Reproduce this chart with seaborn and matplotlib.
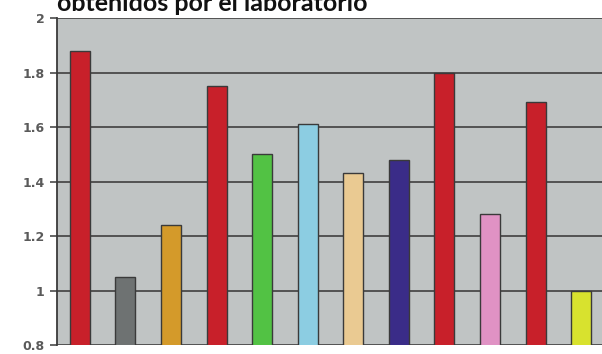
import matplotlib
matplotlib.use("Agg")
import matplotlib.pyplot as plt
import seaborn as sns
import pandas as pd

categories = ["M1", "M2", "M3", "M4", "M5", "M6", "M7", "M8", "M9", "M10", "M11", "M12"]
values = [1.88, 1.05, 1.24, 1.75, 1.50, 1.61, 1.43, 1.48, 1.80, 1.28, 1.69, 1.00]
colors = ["#c8202a", "#6e7272", "#d49a2a", "#c8202a", "#52c244", "#8ccde2",
          "#eaca92", "#3a2c88", "#c8202a", "#e092c4", "#c8202a", "#d8e22e"]
yticks = [0.8, 1, 1.2, 1.4, 1.6, 1.8, 2]
yticklabels = ["0.8", "1", "1.2", "1.4", "1.6", "1.8", "2"]
title = "obtenidos por el laboratorio"

df = pd.DataFrame({"cat": categories, "val": values})

sns.set_theme(style="white")
fig = plt.figure(figsize=(6.02, 3.54), dpi=100)
W, H = 602, 354
ax = fig.add_axes([57 / W, 9 / H, (604 - 57) / W, (345 - 18) / H])
ax.set_facecolor("#c0c4c4")

sns.barplot(data=df, x="cat", y="val", hue="cat", order=categories,
            palette=dict(zip(categories, colors)), legend=False, saturation=1,
            width=0.44, edgecolor="#3a3a3a", linewidth=1.0, ax=ax, zorder=3)

ax.set_ylim(0.8, 2.0)
ax.set_xlim(-0.5, len(categories) - 0.5)
ax.set_yticks(yticks)
ax.set_yticklabels(yticklabels, fontsize=9, fontweight="bold", color="#5a5a5a")
ax.set_xticks([])
ax.set_xlabel("")
ax.set_ylabel("")
ax.yaxis.grid(True, color="#4a4a4a", linewidth=1.3, zorder=1)
ax.set_axisbelow(True)
ax.tick_params(axis="y", length=5, width=1.2, color="#4a4a4a", pad=4, left=True)
for s in ["top", "right", "bottom"]:
    ax.spines[s].set_visible(False)
ax.spines["left"].set_color("#3a3a3a")
ax.spines["left"].set_linewidth(1.3)

fig.text(57 / W, 1 - 11 / H, title, fontsize=18, fontweight="bold",
         family=["Lato", "DejaVu Sans"], color="#111111", va="baseline", ha="left")

fig.savefig("out.png", dpi=100)
